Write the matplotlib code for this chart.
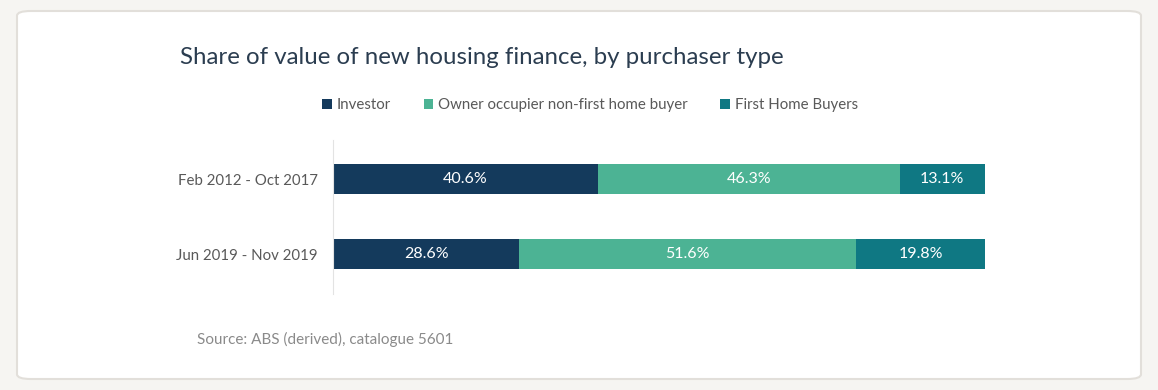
import matplotlib.pyplot as plt
from matplotlib.patches import FancyBboxPatch, Patch

# Data
periods = ["Feb 2012 - Oct 2017", "Jun 2019 - Nov 2019"]
series = ["Investor", "Owner occupier non-first home buyer", "First Home Buyers"]
investor = [40.6, 28.6]
owner_occ = [46.3, 51.6]
first_home = [13.1, 19.8]
colors = ["#143a5c", "#4cb394", "#0f7883"]

plt.rcParams["font.family"] = ["Lato", "DejaVu Sans"]

W, H = 1158, 390
fig = plt.figure(figsize=(W / 100, H / 100), dpi=100)
fig.patch.set_facecolor("#f6f5f2")

# Card background with rounded border
card = FancyBboxPatch((17 / W, 1 - 379 / H), (1141 - 17) / W, (379 - 11) / H,
                      boxstyle="round,pad=0,rounding_size=0.012",
                      transform=fig.transFigure, facecolor="white",
                      edgecolor="#e2dfda", linewidth=1.5, zorder=-10)
fig.patches.append(card)

ax = fig.add_axes([333 / W, 1 - 294 / H, 652 / W, 154 / H])
ax.set_facecolor("none")
ax.set_zorder(5)

y = list(range(len(periods)))
left = [0] * len(periods)
for vals, col in zip([investor, owner_occ, first_home], colors):
    bars = ax.barh(y, vals, left=left, height=0.4, color=col)
    for b, v in zip(bars, vals):
        ax.text(b.get_x() + b.get_width() / 2, b.get_y() + b.get_height() / 2,
                f"{v:.1f}%", ha="center", va="center", color="white", fontsize=11.5)
    left = [l + v for l, v in zip(left, vals)]

ax.set_xlim(0, 100)
ax.set_ylim(1.533, -0.52)
ax.set_yticks(y)
ax.set_yticklabels(periods, fontsize=10.8, color="#595959")
ax.tick_params(axis="y", length=0, pad=11)
ax.set_xticks([])
for s in ["top", "right", "bottom"]:
    ax.spines[s].set_visible(False)
ax.spines["left"].set_color("#e3e3e3")

fig.text(180 / W, 1 - 57 / H, "Share of value of new housing finance, by purchaser type",
         fontsize=17.3, color="#2b3d50", va="center", ha="left")

handles = [Patch(facecolor=c, edgecolor="none") for c in colors]
fig.legend(handles, series, loc="center", bbox_to_anchor=(590 / W, 1 - 105 / H),
           ncol=3, frameon=False, fontsize=10.8, handlelength=0.65, handleheight=0.65,
           handletextpad=0.3, columnspacing=2.2, labelcolor="#595959")

fig.text(197 / W, 1 - 339 / H, "Source: ABS (derived), catalogue 5601",
         fontsize=11, color="#8a8a8a", va="center", ha="left")

fig.savefig("out.png", dpi=100, facecolor=fig.get_facecolor())
